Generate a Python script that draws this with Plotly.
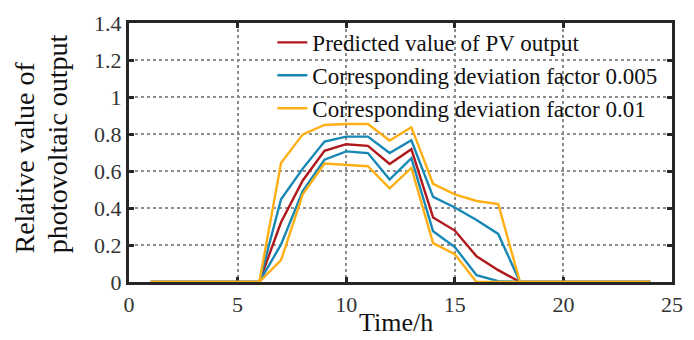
import plotly.graph_objects as go

hours = list(range(1, 25))
pred = [0, 0, 0, 0, 0, 0, 0.323, 0.549, 0.709, 0.745, 0.736, 0.638, 0.718, 0.349, 0.278, 0.139, 0.064, 0, 0, 0, 0, 0, 0, 0]
up005 = [0, 0, 0, 0, 0, 0, 0.447, 0.613, 0.759, 0.786, 0.786, 0.697, 0.766, 0.460, 0.403, 0.335, 0.260, 0, 0, 0, 0, 0, 0, 0]
lo005 = [0, 0, 0, 0, 0, 0, 0.203, 0.492, 0.661, 0.706, 0.697, 0.554, 0.669, 0.274, 0.189, 0.037, 0.005, 0, 0, 0, 0, 0, 0, 0]
up01 = [0, 0, 0, 0, 0, 0, 0.643, 0.798, 0.849, 0.854, 0.854, 0.765, 0.837, 0.531, 0.474, 0.438, 0.421, 0, 0, 0, 0, 0, 0, 0]
lo01 = [0, 0, 0, 0, 0, 0, 0.118, 0.474, 0.640, 0.635, 0.626, 0.506, 0.617, 0.210, 0.150, 0, 0, 0, 0, 0, 0, 0, 0, 0]

x_ticks = [0, 5, 10, 15, 20, 25]
y_ticks = [0, 0.2, 0.4, 0.6, 0.8, 1, 1.2, 1.4]
y_ticktext = ["0", "0.2", "0.4", "0.6", "0.8", "1", "1.2", "1.4"]

names = ["Predicted value of PV output",
         "Corresponding deviation factor 0.005",
         "Corresponding deviation factor 0.01"]
x_title = "Time/h"
y_title_lines = ["Relative value of", "photovoltaic output"]

RED, BLUE, ORANGE = "#B0181C", "#1787B3", "#FDAF14"
FONT = "Liberation Serif"
LW = 2.4

fig = go.Figure()
fig.add_trace(go.Scatter(x=hours, y=pred, mode="lines", name=names[0],
                         line=dict(color=RED, width=LW), legendgroup="a"))
fig.add_trace(go.Scatter(x=hours, y=up005, mode="lines", name=names[1],
                         line=dict(color=BLUE, width=LW), legendgroup="b"))
fig.add_trace(go.Scatter(x=hours, y=lo005, mode="lines", name=names[1],
                         line=dict(color=BLUE, width=LW), legendgroup="b", showlegend=False))
fig.add_trace(go.Scatter(x=hours, y=up01, mode="lines", name=names[2],
                         line=dict(color=ORANGE, width=LW), legendgroup="c"))
fig.add_trace(go.Scatter(x=hours, y=lo01, mode="lines", name=names[2],
                         line=dict(color=ORANGE, width=LW), legendgroup="c", showlegend=False))

axis_common = dict(
    showline=True, linecolor="#262626", linewidth=3, mirror="allticks",
    ticks="inside", ticklen=5, tickwidth=3, tickcolor="#262626",
    showgrid=True, gridcolor="#8c8c8c", gridwidth=1.6, griddash="dot",
    zeroline=False, tickfont=dict(family=FONT, size=22, color="#333333"),
    layer="below traces",
)

fig.update_xaxes(range=[0, 25], tickvals=x_ticks, ticklabelstandoff=1, **axis_common)
fig.update_yaxes(range=[0, 1.4], tickvals=y_ticks, ticktext=y_ticktext, **axis_common)

annotations = [
    dict(text=x_title, xref="paper", yref="paper", x=0.491, y=-0.219,
         xanchor="center", yanchor="bottom", showarrow=False,
         font=dict(family=FONT, size=26, color="#111111")),
    dict(text=y_title_lines[0], xref="paper", yref="paper", x=-0.193, y=0.103,
         xanchor="center", yanchor="bottom", textangle=-90, showarrow=False,
         font=dict(family=FONT, size=28, color="#111111")),
    dict(text=y_title_lines[1], xref="paper", yref="paper", x=-0.132, y=0.103,
         xanchor="center", yanchor="bottom", textangle=-90, showarrow=False,
         font=dict(family=FONT, size=28, color="#111111")),
]

fig.update_layout(
    width=694, height=340,
    margin=dict(l=129, r=11, t=20, b=58),
    paper_bgcolor="white", plot_bgcolor="white",
    font=dict(family=FONT, color="#111111"),
    annotations=annotations,
    legend=dict(x=0.264, y=1.008, xanchor="left", yanchor="top",
                bgcolor="rgba(0,0,0,0)", borderwidth=0,
                font=dict(family=FONT, size=23, color="#111111"),
                tracegroupgap=0, itemwidth=30),
)

fig.write_html("out.html")
